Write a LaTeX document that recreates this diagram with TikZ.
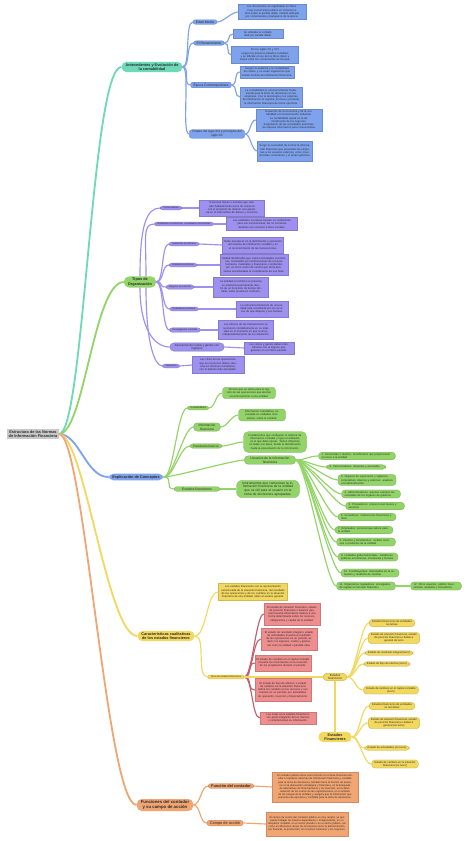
\documentclass[tikz,border=0pt]{standalone}
\usepackage{fontspec}
\setmainfont{Liberation Sans}
\usepackage{tikz}
\definecolor{mapGray}{HTML}{C9C9C9}
\definecolor{mapTeal}{HTML}{6DD9B6}
\definecolor{mapBlue}{HTML}{7FA2EC}
\definecolor{mapPurple}{HTML}{9D90EE}
\definecolor{mapGreen}{HTML}{93D468}
\definecolor{mapYellow}{HTML}{F2D85E}
\definecolor{mapRed}{HTML}{EE8E8E}
\definecolor{mapRedLine}{HTML}{C4606C}
\definecolor{mapOrange}{HTML}{F1A572}
\definecolor{mapText}{HTML}{2B2B2B}
\newcommand{\mapleaf}{\fontsize{2.7}{3.2}\selectfont}
\newcommand{\mappill}{\fontsize{3}{3.6}\selectfont}
\newcommand{\maphead}{\fontsize{3.8}{4.5}\selectfont\bfseries}
\tikzset{
    headpill/.style={fill=#1, rounded corners=5pt, inner xsep=4pt, inner ysep=1.5pt, align=center, font=\maphead, text=mapText},
    subpill/.style={fill=#1, draw=#1!80!black, line width=0.3pt, rounded corners=2.5pt, inner xsep=3pt, inner ysep=1pt, align=center, font=\mappill, text=mapText},
    leafbox/.style={fill=#1, draw=#1!85!black, line width=0.3pt, inner sep=1.5pt, align=center, font=\mapleaf, text=mapText},
    listpill/.style={fill=#1, draw=#1!80!black, line width=0.3pt, rounded corners=3.5pt, inner xsep=3pt, inner ysep=1.2pt, font=\mapleaf, text=mapText},
    rootlink/.style={draw=#1, line width=1.8pt},
    maplink/.style={draw=#1, line width=1.15pt}
}

\begin{document}
\begin{tikzpicture}[x=1pt, y=-1pt]
\path[use as bounding box, fill=white] (0,0) rectangle (474,841);

% raiz y ramas principales
\node[fill=mapGray, inner sep=1.6pt, align=center, font=\fontsize{3.9}{4.5}\selectfont\bfseries, text=mapText] (root) at (33,434) {Estructura de las Normas\\de Información Financiera};
\node[headpill=mapTeal] (ant) at (152,67) {Antecedentes y Evolución de\\la contabilidad};
\node[headpill=mapGreen] (tipos) at (140,282) {Tipos de\\Organización};
\node[headpill=mapBlue] (exp) at (136,477) {Explicación de Conceptos};
\node[headpill=mapYellow] (car) at (166,636) {Características cualitativas\\de los estados financieros};
\node[headpill=mapYellow, draw=none, fill=mapOrange, font=\fontsize{4.3}{5}\selectfont\bfseries] (fun) at (165,805) {Funciones del contador\\y su campo de acción};

\draw[rootlink=mapTeal] (root.east) .. controls +(25,0) and +(-30,0) .. (ant.west);
\draw[rootlink=mapGreen] (root.east) .. controls +(25,0) and +(-30,0) .. (tipos.west);
\draw[rootlink=mapBlue] (root.east) .. controls +(20,0) and +(-22,0) .. (exp.west);
\draw[rootlink=mapYellow] (root.east) .. controls +(25,0) and +(-30,0) .. (car.west);
\draw[rootlink=mapOrange] (root.east) .. controls +(25,0) and +(-30,0) .. (fun.west);

% antecedentes
\node[subpill=mapBlue, font=\fontsize{3.4}{4}\selectfont] (edad) at (205,22) {Edad Media};
\node[subpill=mapBlue, font=\fontsize{3.4}{4}\selectfont] (ren) at (209,43) {El Renacimiento};
\node[subpill=mapBlue, font=\fontsize{3.4}{4}\selectfont] (epoca) at (211,85) {Época Contemporánea};
\node[subpill=mapBlue, font=\fontsize{3.1}{3.7}\selectfont] (fin) at (217,134) {Finales del siglo XIX y principios del\\siglo XX};

\node[leafbox=mapBlue, text width=65pt, minimum height=15pt] (bEdad) at (272,12) {Los documentos se registraban en libros.\\Fray Luca Pacioli publica en Venecia su obra sobre la partida doble, método utilizado por comerciantes y banqueros de la época.};
\node[leafbox=mapBlue, text width=47pt, minimum height=8pt] (bRenA) at (258,34) {Se utilizaba la contabilidad por partida doble.};
\node[leafbox=mapBlue, text width=64pt, minimum height=17pt] (bRenB) at (265,55) {En los siglos XV y XVI\\surgen los primeros tratados contables y se difunde el uso de los libros diario y mayor entre los comerciantes de Europa.};
\node[leafbox=mapBlue, text width=51pt, minimum height=11pt] (bEpoA) at (267,72) {Surgen la auditoría y la contabilidad de costos, y se crean organismos que emiten normas de información financiera.};
\node[leafbox=mapBlue, text width=59pt, minimum height=20pt] (bEpoB) at (271,97) {La contabilidad es una herramienta fundamental para la toma de decisiones en las empresas. Con la tecnología y los sistemas de información se registra, procesa y presenta la información financiera de forma oportuna.};
\node[leafbox=mapBlue, text width=63pt, minimum height=21pt] (bFinA) at (289,120) {Desarrollo de la economía y de la contabilidad con la Revolución Industrial.\\La contabilidad ayuda en la administración de los negocios.\\Surgimiento de las sociedades anónimas.\\Se requiere información para inversionistas.};
\node[leafbox=mapBlue, text width=52pt, minimum height=20pt] (bFinB) at (285,151) {Surge la necesidad de normar la información financiera que presentan las empresas a los usuarios externos, como inversionistas, acreedores y el propio gobierno.};

\foreach \a in {edad,ren,epoca,fin}
  \draw[maplink=mapBlue] (ant.east) .. controls +(8,0) and +(-8,0) .. (\a.west);
\foreach \a/\b in {edad/bEdad,ren/bRenA,ren/bRenB,epoca/bEpoA,epoca/bEpoB,fin/bFinA,fin/bFinB}
  \draw[maplink=mapBlue] (\a.east) .. controls +(6,0) and +(-6,0) .. (\b.west);

% tipos de organizacion
\node[subpill=mapPurple, font=\fontsize{2.5}{3}\selectfont] (com) at (171,208) {Comerciantes};
\node[subpill=mapPurple, font=\fontsize{2.5}{3}\selectfont] (ent) at (184,224) {Entidades económicas: sociedades mercantiles};
\node[subpill=mapPurple, font=\fontsize{2.5}{3}\selectfont] (sus) at (184,244) {Sustancia económica};
\node[subpill=mapPurple, font=\fontsize{2.5}{3}\selectfont] (eco) at (183,265) {Entidad económica};
\node[subpill=mapPurple, font=\fontsize{2.5}{3}\selectfont] (neg) at (180,287) {Negocio en marcha};
\node[subpill=mapPurple, font=\fontsize{2.5}{3}\selectfont] (dua) at (184,309) {Dualidad económica};
\node[subpill=mapPurple, font=\fontsize{2.5}{3}\selectfont] (dev) at (185,330) {Devengación contable};
\node[subpill=mapPurple, rounded corners=4pt, inner xsep=5pt, font=\fontsize{2.9}{3.5}\selectfont] (aso) at (197,347) {Asociación de costos y gastos con\\ingresos};
\node[subpill=mapPurple, font=\fontsize{2.5}{3}\selectfont] (val) at (171,366) {Valuación};

\node[leafbox=mapPurple, text width=62pt, minimum height=16pt] (bCom) at (232,208) {Personas físicas o morales que realizan habitualmente actos de comercio con el propósito de obtener una ganancia en el intercambio de bienes y servicios.};
\node[leafbox=mapPurple, text width=68pt, minimum height=13pt] (bEnt) at (262,224) {Las entidades lucrativas buscan un rendimiento para sus inversionistas; las no lucrativas destinan sus recursos a fines sociales.};
\node[leafbox=mapPurple, text width=58pt, minimum height=16pt] (bSus) at (253,245) {Debe prevalecer en la delimitación y operación del sistema de información contable y en el reconocimiento de las transacciones.};
\node[leafbox=mapPurple, text width=65pt, minimum height=21pt] (bEco) at (254,265) {Unidad identificable que realiza actividades económicas, constituida por combinaciones de recursos humanos, materiales y financieros, conducidos por un único centro de control que toma decisiones encaminadas al cumplimiento de sus fines.};
\node[leafbox=mapPurple, text width=52pt, minimum height=20pt] (bNeg) at (241,287) {La entidad económica se presume en existencia permanente, dentro de un horizonte de tiempo ilimitado, salvo prueba en contrario.};
\node[leafbox=mapPurple, text width=49pt, minimum height=16pt] (bDua) at (262,309) {La estructura financiera de una entidad está constituida por los recursos de que dispone y sus fuentes.};
\node[leafbox=mapPurple, text width=52pt, minimum height=19pt] (bDev) at (246,330) {Los efectos de las transacciones se reconocen contablemente en su totalidad en el momento en que ocurren, independientemente de su realización.};
\node[leafbox=mapPurple, text width=47pt, minimum height=12pt] (bAso) at (269,348) {Los costos y gastos deben identificarse con el ingreso que generan en el mismo periodo.};
\node[leafbox=mapPurple, text width=49pt, minimum height=17pt] (bVal) at (218,365) {Las cifras de las operaciones que se reconocen deben valuarse en términos monetarios, con el atributo más apropiado.};

\draw[maplink=mapPurple] (tipos.north) .. controls +(0,-50) and +(-14,0) .. (com.west);
\draw[maplink=mapPurple] ([xshift=6pt]tipos.north) .. controls +(0,-40) and +(-12,0) .. (ent.west);
\foreach \a in {sus,eco,neg,dua,dev}
  \draw[maplink=mapPurple] (tipos.east) .. controls +(8,0) and +(-8,0) .. (\a.west);
\draw[maplink=mapPurple] (tipos.south) .. controls +(0,40) and +(-16,0) .. (aso.west);
\draw[maplink=mapPurple] ([xshift=6pt]tipos.south) .. controls +(0,55) and +(-8,0) .. (val.west);
\foreach \a/\b in {com/bCom,ent/bEnt,sus/bSus,eco/bEco,neg/bNeg,dua/bDua,dev/bDev,aso/bAso,val/bVal}
  \draw[maplink=mapPurple] (\a.east) -- (\b.west);

% explicacion de conceptos
\node[subpill=mapGreen, rounded corners=2.5pt, font=\fontsize{2.7}{3.2}\selectfont] (cont) at (198,408) {Contabilidad};
\node[subpill=mapGreen, rounded corners=3.5pt, inner xsep=5pt, font=\fontsize{3.2}{3.8}\selectfont] (info) at (207,427) {Información\\financiera};
\node[subpill=mapGreen, font=\fontsize{3}{3.6}\selectfont] (post) at (206,446) {Postulados básicos};
\node[subpill=mapGreen, rounded corners=3.5pt, inner xsep=6pt, font=\fontsize{3.3}{3.9}\selectfont] (usu) at (270,460) {Usuarios de la información\\financiera};
\node[subpill=mapGreen, inner xsep=8pt, font=\fontsize{3.4}{4}\selectfont] (est) at (197,489) {Estados financieros};

\node[leafbox=mapGreen, rounded corners=3pt, text width=50pt, minimum height=11pt] (bCont) at (249,393) {Técnica que se utiliza para el registro de las operaciones que afectan económicamente a una entidad.};
\node[leafbox=mapGreen, rounded corners=3pt, text width=44pt, minimum height=11pt] (bInfo) at (262,415) {Información cuantitativa, expresada en unidades monetarias, sobre la entidad.};
\node[leafbox=mapGreen, rounded corners=5pt, text width=60pt, minimum height=21pt] (bPost) at (275,442) {Fundamentos que configuran el sistema de información contable y rigen el ambiente en el que debe operar. Tienen influencia en todas sus fases, desde la identificación hasta la presentación de la información.};
\node[leafbox=mapGreen, rounded corners=6pt, text width=60pt, minimum height=15pt, font=\fontsize{3.3}{3.8}\selectfont] (bEst) at (268,489) {Instrumentos que comunican la información financiera de la entidad que es útil para el usuario en la toma de decisiones apropiadas.};

\foreach \a in {cont,info,post,usu,est}
  \draw[maplink=mapGreen] (exp.east) .. controls +(10,0) and +(-10,0) .. (\a.west);
\foreach \a/\b in {cont/bCont,info/bInfo,post/bPost,est/bEst}
  \draw[maplink=mapGreen] (\a.east) .. controls +(7,0) and +(-7,0) .. (\b.west);

\foreach \n/\x/\y/\w/\txt in {
  1/357/456/71/{1. Accionistas o dueños: beneficiarios que proporcionan recursos a la entidad},
  2/356/467/53/{2. Patrocinadores: donantes y asociados},
  3/367/480/52/{3. Órganos de supervisión y vigilancia corporativos, internos y externos: analizan a la administración},
  4/371/494/53/{4. Administradores: quienes cumplen los cometidos de los órganos de gobierno},
  5/375/506/53/{5. Proveedores: proporcionan bienes y servicios},
  6/367/517/52/{6. Acreedores: instituciones financieras y otros},
  7/364/530/52/{7. Empleados: personal que labora para la entidad},
  8/366/542/53/{8. Clientes y beneficiarios: reciben servicios o productos de la entidad},
  9/368/557/54/{9. Unidades gubernamentales: establecen políticas económicas, monetarias y fiscales},
  10/370/573/52/{10. Contribuyentes: interesados en la actuación y rendición de cuentas},
  11/366/586/53/{11. Organismos reguladores: encargados de regular el mercado financiero}}{
  \node[listpill=mapGreen, text width=\w pt] (u\n) at (\x,\y) {\txt};
  \draw[maplink=mapGreen] (usu.east) .. controls +(10,0) and +(-10,0) .. (u\n.west);
}
\node[listpill=mapGreen, text width=45pt] (u12) at (436,586) {12. Otros usuarios: público inversionista, analistas y consultores};
\draw[maplink=mapGreen] (u11.east) -- (u12.west);

% caracteristicas cualitativas
\node[leafbox=mapYellow, text width=66pt, minimum height=17pt] (bCar) at (253,592) {Los estados financieros son la representación estructurada de la situación financiera, del resultado de las operaciones y de los cambios en la situación financiera de una entidad, útiles al usuario general.};
\node[subpill=mapYellow, rounded corners=1.5pt, inner ysep=0.8pt, font=\fontsize{2.4}{2.9}\selectfont] (tip) at (226,677) {Tipos de estados financieros};

\node[leafbox=mapRed, text width=53pt, minimum height=22pt] (r1) at (292,614) {El estado de situación financiera, estado de posición financiera o balance general muestra información relativa a una fecha determinada sobre los recursos, obligaciones y capital de la entidad.};
\node[leafbox=mapRed, text width=53pt, minimum height=22pt] (r2) at (289,639) {El estado de resultado integral o estado de actividades muestra el resultado de las operaciones en un periodo, es decir, los ingresos, costos y gastos, así como la utilidad o pérdida neta.};
\node[leafbox=mapRed, text width=53pt, minimum height=16pt] (r3) at (283,663) {El estado de cambios en el capital contable muestra los movimientos en la inversión de los propietarios durante el periodo.};
\node[leafbox=mapRed, text width=53pt, minimum height=23pt] (r4) at (283,690) {El estado de flujo de efectivo o estado de cambios en la situación financiera indica los cambios en los recursos y sus fuentes en un periodo, por actividades de operación, inversión y financiamiento.};
\node[leafbox=mapRed, text width=53pt, minimum height=12pt] (r5) at (288,718) {Las notas a los estados financieros son parte integrante de los mismos y complementan su información.};

\node[subpill=mapYellow, rounded corners=4pt, inner xsep=5pt, font=\fontsize{2.9}{3.4}\selectfont] (ef1) at (335,677) {Estados\\financieros};
\node[headpill=mapYellow, inner xsep=6pt] (ef2) at (335,737) {Estados\\Financieros};

\draw[maplink=mapYellow] (car.east) .. controls +(12,0) and +(-12,0) .. (bCar.west);
\draw[maplink=mapYellow] (car.east) .. controls +(12,0) and +(-12,0) .. (tip.west);
\foreach \a in {r1,r2,r3,r4,r5}
  \draw[maplink=mapRedLine] (tip.east) .. controls +(8,0) and +(-8,0) .. (\a.west);
\draw[maplink=mapYellow] (tip.east) -- (ef1.west);
\draw[maplink=mapYellow] (ef1.south) -- (ef2.north);

\foreach \n/\x/\y/\txt in {
  1/392/623/{Estados financieros de entidades\\lucrativas},
  2/394/638/{Estado de situación financiera, estado\\de posición financiera o balance\\general de lucro},
  3/389/653/{Estado de resultado integral (lucro)},
  4/387/664/{Estado de flujo de efectivo (lucro)},
  5/391/690/{Estado de cambios en el capital contable\\(lucro)}}{
  \node[listpill=mapYellow, align=center] (y\n) at (\x,\y) {\txt};
  \draw[maplink=mapYellow] (ef1.east) .. controls +(8,0) and +(-8,0) .. (y\n.west);
}
\foreach \n/\x/\y/\txt in {
  6/392/706/{Estados financieros de entidades\\no lucrativas},
  7/394/723/{Estado de situación financiera, estado\\de posición financiera o balance\\general (no lucro)},
  8/387/748/{Estado de actividades (no lucro)},
  9/395/764/{Estado de cambios en la situación\\financiera (no lucro)}}{
  \node[listpill=mapYellow, align=center] (y\n) at (\x,\y) {\txt};
  \draw[maplink=mapYellow] (ef2.east) .. controls +(8,0) and +(-8,0) .. (y\n.west);
}

% funciones del contador
\node[subpill=mapOrange, rounded corners=3pt, font=\fontsize{3.9}{4.5}\selectfont\bfseries] (funA) at (231,786) {Función del contador};
\node[subpill=mapOrange, rounded corners=3pt, font=\fontsize{3.9}{4.5}\selectfont] (funB) at (225,823) {Campo de acción};
\node[leafbox=mapOrange, text width=83pt, minimum height=30pt, font=\fontsize{2.6}{3.1}\selectfont] (bFunA) at (315,787) {El contador público tiene como función en el área financiera diseñar e implantar sistemas de información financiera y contable para la toma de decisiones; también tiene la función de asesorar en la planeación estratégica y financiera, en la búsqueda de alternativas de financiamiento y de inversión, en la determinación de los costos de las organizaciones, en el análisis de los riesgos de la entidad, y asegura que la información que presenta sea oportuna y confiable para la toma de decisiones.};
\node[leafbox=mapOrange, text width=79pt, minimum height=24pt, font=\fontsize{2.6}{3.1}\selectfont] (bFunB) at (307,824) {El campo de acción del contador público es muy amplio, ya que puede trabajar de manera dependiente o independiente, en un despacho contable, en el sector privado o en el sector público, así como en diferentes ramas de la empresa como la administración, las finanzas, la producción, los recursos humanos y los negocios.};

\draw[maplink=mapOrange] (fun.east) .. controls +(7,0) and +(-7,0) .. (funA.west);
\draw[maplink=mapOrange] (fun.east) .. controls +(7,0) and +(-7,0) .. (funB.west);
\draw[maplink=mapOrange] (funA.east) -- (bFunA.west);
\draw[maplink=mapOrange] (funB.east) -- (bFunB.west);
\end{tikzpicture}
\end{document}
